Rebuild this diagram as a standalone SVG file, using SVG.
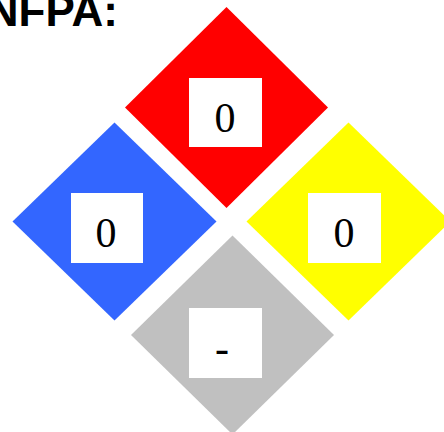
<svg xmlns="http://www.w3.org/2000/svg" width="444" height="432" viewBox="0 0 444 432">
<style>
.box{fill:#ffffff}
.num{font-family:"Liberation Serif","Times New Roman",serif;font-size:42px;fill:#000;text-anchor:middle}
.title{font-family:"Liberation Sans",Arial,sans-serif;font-size:44px;font-weight:bold;fill:#000;text-anchor:end}
</style>
<rect width="444" height="432" fill="#ffffff"/>
<text class="title" x="118" y="26">NFPA:</text>
<g id="health">
<polygon points="114.5,122.5 216.5,221.5 114.5,320.5 12.5,221.5" fill="#3366ff"/>
<rect class="box" x="71" y="193" width="72" height="70"/>
<text class="num" x="106" y="247">0</text>
</g>
<g id="flammability">
<polygon points="226.5,7 328,107.5 226.5,208 125,107.5" fill="#ff0000"/>
<rect class="box" x="189" y="78" width="73" height="69"/>
<text class="num" x="225" y="132">0</text>
</g>
<g id="instability">
<polygon points="348.5,122.5 450.5,221.5 348.5,320.5 246.5,221.5" fill="#ffff00"/>
<rect class="box" x="308" y="193" width="73" height="70"/>
<text class="num" x="344" y="247">0</text>
</g>
<g id="special">
<polygon points="232.5,235.5 334,335 232.5,434.5 131,335" fill="#c0c0c0"/>
<rect class="box" x="189" y="308" width="73" height="70"/>
<text class="num" x="222" y="362">-</text>
</g>
</svg>
